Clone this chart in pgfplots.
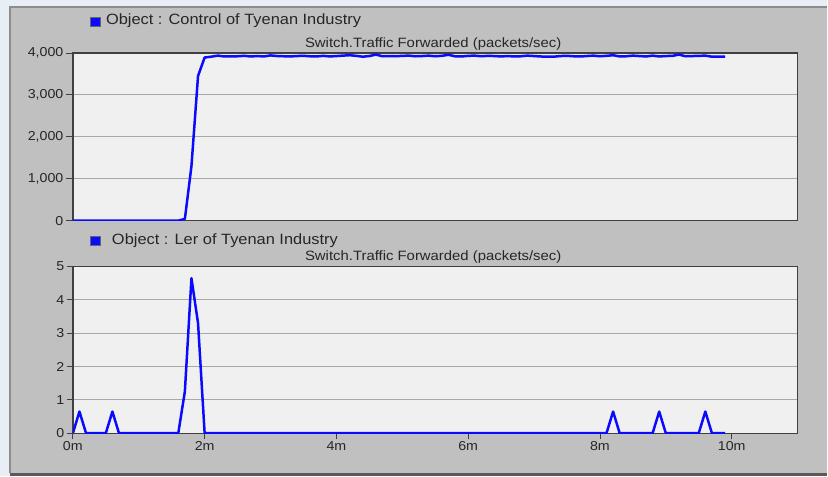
\documentclass[border=0pt]{standalone}
\usepackage{pgfplots}
\pgfplotsset{compat=1.18}
\usepackage{fontspec}
\setmainfont{Liberation Sans}[FakeStretch=1.1]
\definecolor{winbg}{HTML}{C0C0C0}
\definecolor{plotbg}{HTML}{F0F0F0}
\definecolor{axisline}{HTML}{404040}
\definecolor{gridc}{HTML}{A8A8A8}
\definecolor{serie}{HTML}{0A0AFF}
\newcommand{\ticksfont}{\fontsize{13}{15}\selectfont}
\pgfplotsset{
  opnet/.style={
    scale only axis, width=726bp,
    xmin=0, xmax=11, ymin=0,
    axis background/.style={fill=plotbg},
    axis line style={draw=axisline, line width=1.3pt},
    ymajorgrids, grid style={draw=gridc, line width=1pt},
    major tick style={draw=axisline, line width=0.8pt},
    ytick pos=left, xtick pos=bottom,
    tick align=outside, major tick length=7bp,
    every tick label/.style={font=\ticksfont, text=black!85},
    yticklabel style={xshift=1bp},
    /pgf/number format/assume math mode=true,
    /pgf/number format/1000 sep={,},
    scaled y ticks=false,
  },
  serstyle/.style={draw=serie, line width=2.5pt, no markers, line join=round},
}
\pgfplotstableread{
t v
0.0 0
0.1 0
0.2 0
0.3 0
0.4 0
0.5 0
0.6 0
0.7 0
0.8 0
0.9 0
1.0 0
1.1 0
1.2 0
1.3 0
1.4 0
1.5 0
1.6 0
1.7 40
1.8 1300
1.9 3450
2.0 3890
2.1 3910
2.2 3935
2.3 3915
2.4 3915
2.5 3920
2.6 3930
2.7 3915
2.8 3925
2.9 3915
3.0 3940
3.1 3925
3.2 3920
3.3 3915
3.4 3925
3.5 3930
3.6 3920
3.7 3915
3.8 3930
3.9 3915
4.0 3925
4.1 3935
4.2 3945
4.3 3930
4.4 3910
4.5 3925
4.6 3960
4.7 3920
4.8 3925
4.9 3920
5.0 3930
5.1 3935
5.2 3920
5.3 3925
5.4 3935
5.5 3920
5.6 3930
5.7 3955
5.8 3920
5.9 3915
6.0 3930
6.1 3935
6.2 3920
6.3 3930
6.4 3925
6.5 3915
6.6 3925
6.7 3915
6.8 3920
6.9 3935
7.0 3925
7.1 3915
7.2 3910
7.3 3910
7.4 3925
7.5 3930
7.6 3920
7.7 3915
7.8 3925
7.9 3935
8.0 3920
8.1 3930
8.2 3945
8.3 3915
8.4 3920
8.5 3935
8.6 3925
8.7 3915
8.8 3935
8.9 3915
9.0 3925
9.1 3930
9.2 3960
9.3 3920
9.4 3925
9.5 3930
9.6 3935
9.7 3910
9.8 3910
9.9 3910
}\controldata
\pgfplotstableread{
t v
0.0 0
0.1 0.65
0.2 0
0.3 0
0.4 0
0.5 0
0.6 0.65
0.7 0
0.8 0
1.0 0
1.2 0
1.4 0
1.6 0
1.7 1.25
1.8 4.65
1.9 3.3
2.0 0
3.0 0
4.0 0
5.0 0
6.0 0
7.0 0
8.0 0
8.1 0
8.2 0.65
8.3 0
8.4 0
8.5 0
8.6 0
8.7 0
8.8 0
8.9 0.65
9.0 0
9.1 0
9.2 0
9.3 0
9.4 0
9.5 0
9.6 0.65
9.7 0
9.8 0
9.9 0
}\lerdata
\begin{document}
\begin{tikzpicture}
% window background
\fill[color={rgb,255:red,232;green,238;blue,246}] (0bp,0bp) rectangle (828bp,-477bp);
\fill[winbg] (10bp,-7bp) rectangle (828bp,-474bp);
\draw[color=black!45, line width=1.5bp] (10bp,-474bp) -- (10bp,-7bp) -- (828bp,-7bp);
\draw[color=black!65, line width=3bp] (10bp,-475.5bp) -- (828bp,-475.5bp);
% titles
\fill[serie, draw=black!60, line width=0.4bp] (90bp,-17bp) rectangle (100bp,-26bp);
\node[anchor=west, inner sep=0pt, text=black!85, font=\fontsize{15}{17}\selectfont] at (106bp,-21bp) {Object : Control of Tyenan Industry};
\node[anchor=center, inner sep=0pt, text=black!85, font=\fontsize{13.6}{15}\selectfont] at (434bp,-44bp) {Switch.Traffic Forwarded (packets/sec)};
\fill[serie, draw=black!60, line width=0.4bp] (90bp,-237bp) rectangle (100bp,-246bp);
\node[anchor=west, inner sep=0pt, text=black!85, font=\fontsize{15}{17}\selectfont] at (112bp,-241bp) {Object : Ler of Tyenan Industry};
\node[anchor=center, inner sep=0pt, text=black!85, font=\fontsize{13.6}{15}\selectfont] at (434bp,-257bp) {Switch.Traffic Forwarded (packets/sec)};
% top axis
\begin{axis}[opnet, at={(73bp,-221bp)}, anchor=south west, height=168bp,
  ymax=4000, ytick={0,1000,2000,3000,4000}, xtick=\empty]
\addplot[serstyle] table[x=t, y=v] {\controldata};
\end{axis}
% bottom axis
\begin{axis}[opnet, at={(73bp,-434bp)}, anchor=south west, height=167bp,
  ymax=5, ytick={0,1,2,3,4,5}, xtick={0,2,4,6,8,10},
  xticklabels={0m,2m,4m,6m,8m,10m}, major tick length=6bp,
  xticklabel style={yshift=1bp}]
\addplot[serstyle] table[x=t, y=v] {\lerdata};
\end{axis}
\end{tikzpicture}
\end{document}
